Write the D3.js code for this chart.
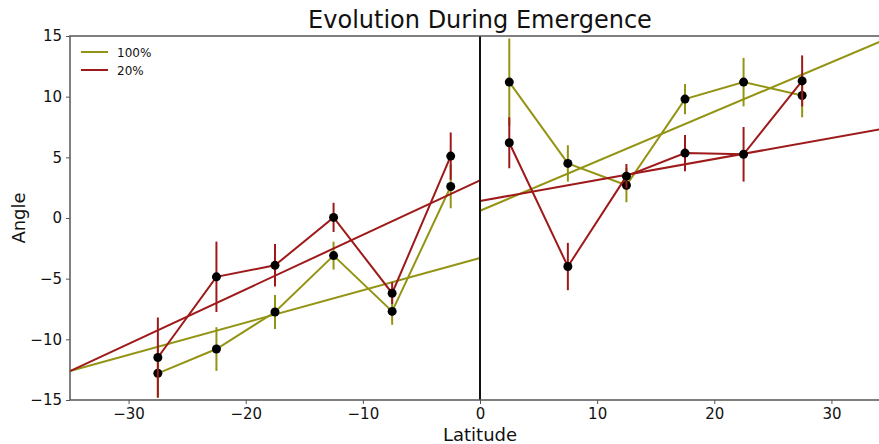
<!DOCTYPE html>
<html>
<head>
<meta charset="utf-8">
<script src="https://cdn.jsdelivr.net/npm/d3@7"></script>
<style>
body { margin: 0; background: #fff; }
text { font-family: "DejaVu Sans", sans-serif; }
</style>
</head>
<body>
<svg id="chart" width="879" height="444"></svg>
<script>
// latitude bins
let lat = [-27.5, -22.5, -17.5, -12.5, -7.5, -2.5, 2.5, 7.5, 12.5, 17.5, 22.5, 27.5];

let full = [-12.8, -10.8, -7.75, -3.1, -7.7, 2.6, 11.2, 4.5, 2.7, 9.8, 11.2, 10.1];
let fullErr = [2.0, 1.8, 1.4, 1.15, 1.1, 1.8, 3.6, 1.5, 1.4, 1.25, 2.0, 1.8];

let twenty = [-11.5, -4.85, -3.9, 0.05, -6.2, 5.1, 6.2, -4.0, 3.45, 5.35, 5.25, 11.3];
let twentyErr = [3.3, 2.9, 1.75, 1.2, 0.9, 1.95, 2.1, 1.95, 1.0, 1.5, 2.25, 2.1];

// linear fits per hemisphere: [slope, intercept]
let fitFullS = [0.266, -3.3];
let fitFullN = [0.408, 0.6];
let fitTwentyS = [0.449, 3.1];
let fitTwentyN = [0.173, 1.4];

let xTicks = [-30, -20, -10, 0, 10, 20, 30];
let yTicks = [-15, -10, -5, 0, 5, 10, 15];

let colFull = '#949414';
let colTwenty = '#9e1a1a';

let svg = d3.select('#chart');

let x = d3.scaleLinear().domain([-35, 35]).range([70, 890]);
let y = d3.scaleLinear().domain([-15, 15]).range([400, 36]);

let g = svg.append('g');

// regression lines, one per hemisphere
function fitLine(fit, x0, x1, col) {
    g.append('line')
        .attr('x1', x(x0)).attr('x2', x(x1))
        .attr('y1', y(fit[0] * x0 + fit[1]))
        .attr('y2', y(fit[0] * x1 + fit[1]))
        .attr('stroke', col)
        .attr('stroke-width', 2);
}

function series(vals, errs, col) {
    let pts = lat.map((d, i) => [d, vals[i], errs[i]]);
    let south = pts.filter(d => d[0] < 0);
    let north = pts.filter(d => d[0] > 0);

    let line = d3.line()
        .x(d => x(d[0]))
        .y(d => y(d[1]));

    [south, north].forEach(p => {
        g.append('path')
            .datum(p)
            .attr('d', line)
            .attr('fill', 'none')
            .attr('stroke', col)
            .attr('stroke-width', 2);
    });

    g.selectAll(null)
        .data(pts)
        .enter()
        .append('line')
        .attr('x1', d => x(d[0]))
        .attr('x2', d => x(d[0]))
        .attr('y1', d => y(d[1] - d[2]))
        .attr('y2', d => y(d[1] + d[2]))
        .attr('stroke', col)
        .attr('stroke-width', 2);

    g.selectAll(null)
        .data(pts)
        .enter()
        .append('circle')
        .attr('cx', d => x(d[0]))
        .attr('cy', d => y(d[1]))
        .attr('r', 4.5)
        .attr('fill', '#000');
}

fitLine(fitFullS, -35, 0, colFull);
fitLine(fitFullN, 0, 35, colFull);
series(full, fullErr, colFull);

fitLine(fitTwentyS, -35, 0, colTwenty);
fitLine(fitTwentyN, 0, 35, colTwenty);
series(twenty, twentyErr, colTwenty);

// equator
g.append('line')
    .attr('x1', x(0)).attr('x2', x(0))
    .attr('y1', y(15)).attr('y2', y(-15))
    .attr('stroke', '#111')
    .attr('stroke-width', 2);

// frame
svg.append('path')
    .attr('d', 'M' + x(35) + ',' + y(15) + 'H' + x(-35) + 'V' + y(-15) + 'H' + x(35))
    .attr('fill', 'none')
    .attr('stroke', '#555')
    .attr('stroke-width', 1.5);

let xAxis = svg.append('g')
    .attr('transform', 'translate(0,' + y(-15) + ')')
    .call(d3.axisBottom(x).tickValues(xTicks).tickSize(4).tickPadding(4)
        .tickFormat(d => d < 0 ? '\u2212' + Math.abs(d) : d));
let yAxis = svg.append('g')
    .attr('transform', 'translate(' + x(-35) + ',0)')
    .call(d3.axisLeft(y).tickValues(yTicks).tickSize(4).tickPadding(4)
        .tickFormat(d => d < 0 ? '\u2212' + Math.abs(d) : d));

[xAxis, yAxis].forEach(a => {
    a.select('.domain').remove();
    a.selectAll('line').attr('stroke', '#555');
    a.selectAll('text').attr('font-size', '15px').attr('fill', '#111')
        .style('font-family', '"DejaVu Sans", sans-serif');
});

svg.append('text')
    .attr('x', 480).attr('y', 28)
    .attr('text-anchor', 'middle')
    .attr('font-size', '24px')
    .attr('fill', '#111')
    .text('Evolution During Emergence');

svg.append('text')
    .attr('x', 480).attr('y', 441)
    .attr('text-anchor', 'middle')
    .attr('font-size', '18px')
    .attr('fill', '#111')
    .text('Latitude');

svg.append('text')
    .attr('transform', 'translate(25,218) rotate(-90)')
    .attr('text-anchor', 'middle')
    .attr('font-size', '18px')
    .attr('fill', '#111')
    .text('Angle');

// legend
let legend = [['100%', colFull], ['20%', colTwenty]];
legend.forEach((d, i) => {
    svg.append('line')
        .attr('x1', 81).attr('x2', 108)
        .attr('y1', 52 + i * 18).attr('y2', 52 + i * 18)
        .attr('stroke', d[1])
        .attr('stroke-width', 2);
    svg.append('text')
        .attr('x', 117).attr('y', 56.5 + i * 18)
        .attr('font-size', '12px')
        .attr('fill', '#111')
        .text(d[0]);
});
</script>
</body>
</html>
